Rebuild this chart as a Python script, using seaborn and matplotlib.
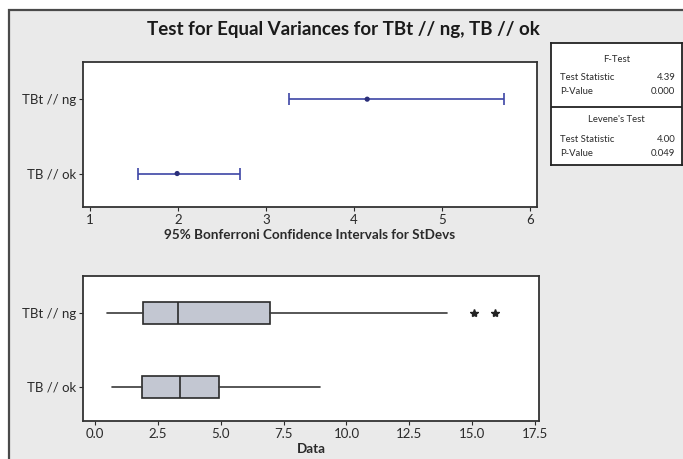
import matplotlib
matplotlib.use("Agg")
import matplotlib.pyplot as plt
from matplotlib.patches import Rectangle
import seaborn as sns
import pandas as pd

# Groups, top to bottom
groups = ["TBt // ng", "TB // ok"]

# 95% Bonferroni confidence intervals for the standard deviations
sd_estimate = [4.15, 1.99]
sd_lower = [3.26, 1.55]
sd_upper = [5.70, 2.71]

# Boxplot summaries of the data
whisker_low = [0.49, 0.69]
quartile_1 = [1.91, 1.87]
median = [3.31, 3.37]
quartile_3 = [6.97, 4.93]
whisker_high = [14.01, 8.94]
outliers = [[15.07, 15.90], []]

# Test results
test_rows = [
    ("F-Test", None),
    ("Test Statistic", "4.39"),
    ("P-Value", "0.000"),
    ("Levene's Test", None),
    ("Test Statistic", "4.00"),
    ("P-Value", "0.049"),
]

ci_ticks = [1, 2, 3, 4, 5, 6]
data_ticks = [0.0, 2.5, 5.0, 7.5, 10.0, 12.5, 15.0, 17.5]

sns.set_theme(style="white")
plt.rcParams["font.family"] = ["Lato", "DejaVu Sans"]

W, H = 683, 459
fig = plt.figure(figsize=(W / 100, H / 100), dpi=100, facecolor="white")


def rect(left, top, right, bottom):
    return [left / W, 1 - bottom / H, (right - left) / W, (bottom - top) / H]


# Grey frame around the whole graph window
frame = Rectangle((9 / W, -0.05), 1.1, 1 - 10 / H + 0.05,
                  transform=fig.transFigure, facecolor="#eaeaea",
                  edgecolor="#4a4a4a", linewidth=1.6, zorder=-10)
fig.add_artist(frame)

fig.text(343 / W, 1 - 30 / H, "Test for Equal Variances for TBt // ng, TB // ok",
         ha="center", va="center", fontsize=13.5, fontweight="bold", color="#1a1a1a")

text_color = "#2a2a2a"
tick_kw = dict(labelsize=9.5, colors=text_color, length=3, width=0.8)
label_kw = dict(fontsize=9.7, fontweight="bold", color=text_color, labelpad=2)

# ---- Confidence intervals panel ----
ax1 = fig.add_axes(rect(83, 62, 537, 207))
ax1.set_facecolor("white")
ci = pd.DataFrame({"group": groups, "pos": range(len(groups)),
                   "est": sd_estimate, "lo": sd_lower, "hi": sd_upper})
blue = "#3d46a6"
ax1.errorbar(ci["est"], ci["pos"],
             xerr=[ci["est"] - ci["lo"], ci["hi"] - ci["est"]],
             fmt="none", ecolor=blue, elinewidth=1.2, capsize=4, capthick=1.2)
sns.scatterplot(data=ci, x="est", y="pos", ax=ax1, color="#2b2f7a", s=14,
                edgecolor="none", zorder=3, legend=False)
ax1.set_xlim(0.92, 6.08)
ax1.set_ylim(1.45, -0.5)
ax1.set_xticks(ci_ticks)
ax1.set_xticklabels([str(t) for t in ci_ticks])
ax1.set_yticks(range(len(groups)))
ax1.set_yticklabels(groups)
ax1.set_ylabel("")
ax1.set_xlabel("95% Bonferroni Confidence Intervals for StDevs", **label_kw)
ax1.tick_params(axis="both", direction="out", bottom=True, left=True, pad=2, **tick_kw)
for s in ax1.spines.values():
    s.set_color("#333333")
    s.set_linewidth(1.3)

# ---- Boxplot panel ----
ax2 = fig.add_axes(rect(83, 276, 539, 421))
ax2.set_facecolor("white")
stats = []
for i, g in enumerate(groups):
    stats.append(dict(label=g, whislo=whisker_low[i], q1=quartile_1[i], med=median[i],
                      q3=quartile_3[i], whishi=whisker_high[i], fliers=outliers[i]))
ax2.bxp(stats, positions=range(len(groups)), orientation="horizontal", widths=0.29,
        showcaps=False, patch_artist=True,
        boxprops=dict(facecolor="#c3c7d2", edgecolor="#2a2a2a", linewidth=1.2),
        medianprops=dict(color="#2a2a2a", linewidth=1.2),
        whiskerprops=dict(color="#3a3a3a", linewidth=1.2),
        flierprops=dict(marker="*", markersize=6, markerfacecolor="#222222",
                        markeredgecolor="#222222"))
ax2.set_xlim(-0.48, 17.66)
ax2.set_ylim(1.46, -0.5)
ax2.set_xticks(data_ticks)
ax2.set_xticklabels([f"{t:.1f}" for t in data_ticks])
ax2.set_yticks(range(len(groups)))
ax2.set_yticklabels(groups)
ax2.set_xlabel("Data", **label_kw)
ax2.tick_params(axis="both", direction="out", bottom=True, left=True, pad=2, **tick_kw)
for s in ax2.spines.values():
    s.set_color("#333333")
    s.set_linewidth(1.3)

# ---- Test results box ----
ax3 = fig.add_axes(rect(551, 43, 682, 165))
ax3.set_facecolor("white")
ax3.set_xlim(0, 1)
ax3.set_ylim(165, 43)
ax3.set_xticks([])
ax3.set_yticks([])
for s in ax3.spines.values():
    s.set_color("#222222")
    s.set_linewidth(1.3)
ax3.axhline(107, color="#222222", linewidth=1.3)
row_y = [60, 78, 92, 119, 139, 154]
for (label, value), y in zip(test_rows, row_y):
    if value is None:
        ax3.text(0.5, y, label, ha="center", va="center", fontsize=6.8, color=text_color)
    else:
        ax3.text(0.07, y, label, ha="left", va="center", fontsize=6.8, color=text_color)
        ax3.text(0.95, y, value, ha="right", va="center", fontsize=6.8, color=text_color)

fig.savefig("out.png", dpi=100, facecolor=fig.get_facecolor())
